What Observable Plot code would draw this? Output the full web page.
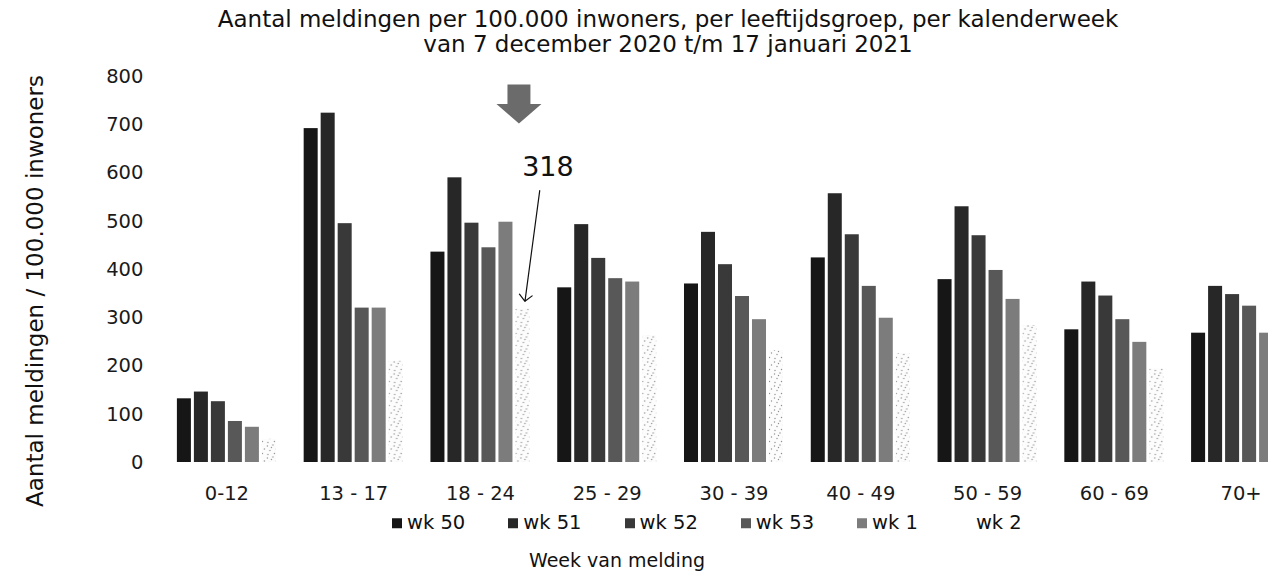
<!DOCTYPE html>
<html><head><meta charset="utf-8">
<script src="https://cdn.jsdelivr.net/npm/d3@7"></script>
<script src="https://cdn.jsdelivr.net/npm/@observablehq/plot@0.6"></script>
<style>
html,body{margin:0;padding:0;background:#fff;}
#wrap{position:relative;width:1268px;height:576px;overflow:hidden;font-family:"DejaVu Sans",Verdana,sans-serif;color:#111;}
.t{position:absolute;white-space:nowrap;transform:translate(-50%,-50%);font-size:19px;line-height:1;}
.title{font-size:23px;}
#chart{position:absolute;left:0;top:60px;}
#ylab{position:absolute;left:35px;top:291px;transform:translate(-50%,-50%) rotate(-90deg);font-size:23px;white-space:nowrap;line-height:1;}
#legend{position:absolute;left:392px;top:523px;transform:translateY(-50%);display:flex;gap:43px;font-size:19.5px;line-height:1;}
.item{display:flex;align-items:center;}
.sw{width:10px;height:10px;margin-right:5px;}
</style></head><body>
<div id="wrap">
<div class="t title" style="left:668px;top:19px">Aantal meldingen per 100.000 inwoners, per leeftijdsgroep, per kalenderweek</div>
<div class="t title" style="left:668px;top:44px">van 7 december 2020 t/m 17 januari 2021</div>
<div id="chart"></div>
<div id="ylab">Aantal meldingen / 100.000 inwoners</div>
<div id="legend"></div>
<div class="t" style="left:617px;top:560px">Week van melding</div>
</div>
<script>
const groups = ["0-12", "13 - 17", "18 - 24", "25 - 29", "30 - 39", "40 - 49", "50 - 59", "60 - 69", "70+"];
const weeks = ["wk 50", "wk 51", "wk 52", "wk 53", "wk 1", "wk 2"];
const wk50 = [132, 692, 436, 362, 370, 424, 379, 275, 268];
const wk51 = [146, 724, 590, 493, 477, 557, 530, 374, 365];
const wk52 = [126, 495, 496, 423, 410, 472, 470, 345, 348];
const wk53 = [85, 320, 445, 381, 344, 365, 398, 296, 324];
const wk1  = [73, 320, 498, 374, 296, 299, 338, 249, 268];
const wk2  = [48, 210, 318, 263, 232, 226, 284, 194, 230];
const yTicks = [0, 100, 200, 300, 400, 500, 600, 700, 800];
const shades = ["#161616", "#272727", "#393939", "#585858", "#7c7c7c", "url(#dots)"];
const legendShades = ["#161616", "#272727", "#393939", "#585858", "#7c7c7c", "transparent"];
const highlight = [{group: "18 - 24", week: "wk 2", label: "318"}];
const bigArrowValue = 743;
const labelValue = 611;
const tipValue = 334;

const series = [wk50, wk51, wk52, wk53, wk1, wk2];
const rows = groups.flatMap((g, i) => weeks.map((w, j) => ({group: g, week: w, value: series[j][i]})));

const blockArrow = {
  draw(ctx, size) {
    const r = Math.sqrt(size / Math.PI);
    const sw = r * 0.51, h = r * 0.867;
    ctx.moveTo(-sw, -h); ctx.lineTo(sw, -h); ctx.lineTo(sw, 0); ctx.lineTo(r, 0);
    ctx.lineTo(0, h); ctx.lineTo(-r, 0); ctx.lineTo(-sw, 0); ctx.closePath();
  }
};

const plot = Plot.plot({
  width: 1268, height: 450,
  marginLeft: 163, marginRight: -36, marginTop: 16, marginBottom: 48,
  style: {fontFamily: "DejaVu Sans, Verdana, sans-serif", fontSize: "19.5px", color: "#1a1a1a", background: "transparent"},
  fx: {domain: groups, paddingInner: 0.219, paddingOuter: 0.1096, round: false, label: null, axis: "bottom", tickSize: 0, tickPadding: 24},
  x: {domain: weeks, paddingInner: 0.176, paddingOuter: 0, round: false, axis: null},
  y: {domain: [0, 800], ticks: yTicks, tickSize: 0, tickPadding: 34, label: null},
  color: {domain: weeks, range: shades},
  marks: [
    Plot.barY(rows, {fx: "group", x: "week", y: "value", fill: "week"}),
    Plot.dot(highlight, {fx: "group", x: "week", y: () => bigArrowValue, symbol: blockArrow, r: 22.5, fill: "#6b6b6b", stroke: null, dx: -4}),
    Plot.text(highlight, {fx: "group", x: "week", y: () => labelValue, text: "label", fontSize: 27, dx: 25, fill: "#111"}),
    Plot.vector(highlight, {fx: "group", x: "week", y: () => tipValue, length: 111.7, rotate: 187.6, anchor: "end", shape: "arrow", r: 1, stroke: "#111", strokeWidth: 1.2, dx: 2})
  ]
});

const svgEl = plot.tagName.toLowerCase() === "svg" ? plot : plot.querySelector("svg");
const defs = d3.select(svgEl).insert("defs", ":first-child");
const pat = defs.append("pattern").attr("id", "dots").attr("patternUnits", "userSpaceOnUse").attr("width", 12).attr("height", 12);
pat.append("rect").attr("width", 12).attr("height", 12).attr("fill", "#fcfcfc");
[[1.5, 2], [7, 1], [4, 6.5], [10.5, 5], [2, 10.5], [8.5, 9.5], [5.5, 3.5]].forEach(([cx, cy]) =>
  pat.append("circle").attr("cx", cx).attr("cy", cy).attr("r", 0.7).attr("fill", "#8f8f8f"));
document.getElementById("chart").appendChild(plot);

const legend = document.getElementById("legend");
weeks.forEach((w, i) => {
  const item = document.createElement("div");
  item.className = "item";
  const sw = document.createElement("span");
  sw.className = "sw";
  sw.style.background = legendShades[i];
  const tx = document.createElement("span");
  tx.textContent = w;
  item.appendChild(sw); item.appendChild(tx);
  legend.appendChild(item);
});
</script>
</body></html>
